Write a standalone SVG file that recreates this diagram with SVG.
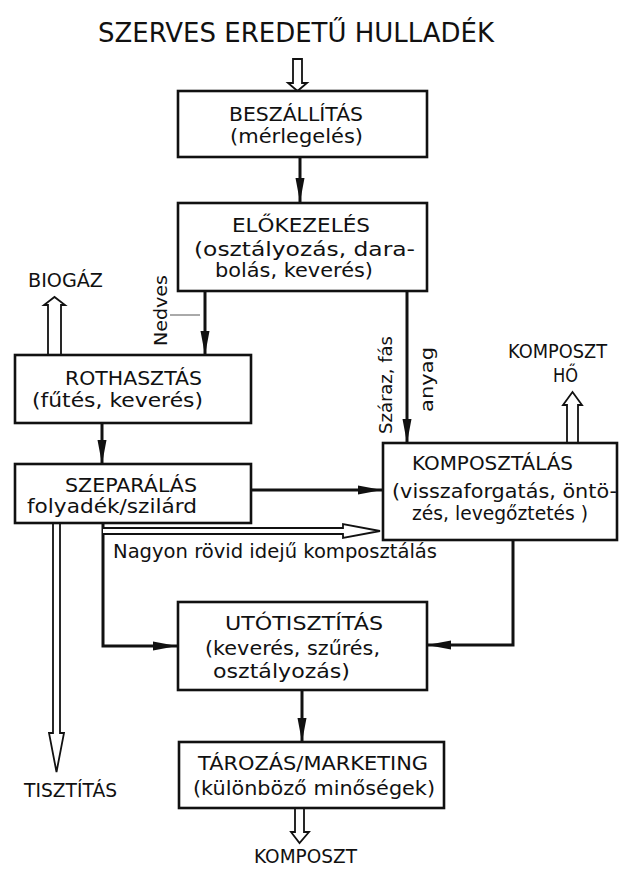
<svg xmlns="http://www.w3.org/2000/svg" width="622" height="869" viewBox="0 0 622 869">
<style>
text{font-family:"DejaVu Sans","Liberation Sans",sans-serif;fill:#111;font-size:19.5px}
.box{fill:#fff;stroke:#111;stroke-width:2.6}
.con{fill:none;stroke:#111;stroke-width:3}
.open{fill:#fff;stroke:#111;stroke-width:1.8;stroke-linejoin:miter}
.title{font-size:27px}
.rot{font-size:18.5px}
</style>
<defs>
<marker id="ah" markerUnits="userSpaceOnUse" markerWidth="26" markerHeight="12" refX="24" refY="5" orient="auto">
<path d="M0,0.5 L24,5 L0,9.5 z" fill="#111"/>
</marker>
</defs>
<rect width="622" height="869" fill="#fff"/>
<text class="title" x="98" y="42" textLength="396" lengthAdjust="spacingAndGlyphs">SZERVES EREDETŰ HULLADÉK</text>

<g id="connectors">
<line class="con" x1="300" y1="157" x2="300" y2="202" marker-end="url(#ah)"/>
<line class="con" x1="205" y1="291" x2="205" y2="355" marker-end="url(#ah)"/>
<line class="con" x1="407" y1="291" x2="407" y2="443" marker-end="url(#ah)"/>
<line class="con" x1="102" y1="423" x2="102" y2="464" marker-end="url(#ah)"/>
<line class="con" x1="251" y1="490" x2="382" y2="490" marker-end="url(#ah)"/>
<path class="con" d="M103,523 V646 H177" marker-end="url(#ah)"/>
<path class="con" d="M513,540 V645 H427" marker-end="url(#ah)"/>
<line class="con" x1="302" y1="690" x2="302" y2="742" marker-end="url(#ah)"/>
<path class="open" d="M293,59 H302 V83 H307 L297.5,91 L288,83 H293 Z"/>
<path class="open" d="M48,355 V305 H44 L54.5,297 L65,305 H61 V355"/>
<path class="open" d="M567,443 V405 H563 L572.5,392 L582,405 H578 V443"/>
<path class="open" d="M295,808 V832 H291 L299.5,843 L309,832 H304 V808"/>
<path class="open" d="M103,528 H343 V524 L380,531 L343,538 V534 H103"/>
<path class="open" d="M53,523 V733 H49 L56.5,772 L64,733 H60 V523"/>
<line x1="170" y1="315" x2="200" y2="315" stroke="#555" stroke-width="1"/>
<text class="rot" transform="translate(167,346) rotate(-90)" textLength="71" lengthAdjust="spacingAndGlyphs">Nedves</text>
<text class="rot" transform="translate(392,434) rotate(-90)" textLength="98" lengthAdjust="spacingAndGlyphs">Száraz, fás</text>
<text class="rot" transform="translate(433,412) rotate(-90)" textLength="65" lengthAdjust="spacingAndGlyphs">anyag</text>
<text x="113" y="558" textLength="324" lengthAdjust="spacingAndGlyphs">Nagyon rövid idejű komposztálás</text>
</g>

<g id="n-beszallitas">
<rect class="box" x="178" y="91" width="249" height="66"/>
<text x="229" y="121" textLength="134" lengthAdjust="spacingAndGlyphs">BESZÁLLÍTÁS</text>
<text x="230" y="143" font-size="19" textLength="133" lengthAdjust="spacingAndGlyphs">(mérlegelés)</text>
</g>
<g id="n-elokezeles">
<rect class="box" x="178" y="203" width="249" height="88"/>
<text x="232" y="232" textLength="138" lengthAdjust="spacingAndGlyphs">ELŐKEZELÉS</text>
<text x="194" y="256" textLength="221" lengthAdjust="spacingAndGlyphs">(osztályozás, dara-</text>
<text x="215" y="277" textLength="158" lengthAdjust="spacingAndGlyphs">bolás, keverés)</text>
</g>
<g id="n-biogaz">
<text x="28" y="287" textLength="75" lengthAdjust="spacingAndGlyphs">BIOGÁZ</text>
</g>
<g id="n-rothasztas">
<rect class="box" x="15" y="355" width="236" height="68"/>
<text x="65" y="385" textLength="137" lengthAdjust="spacingAndGlyphs">ROTHASZTÁS</text>
<text x="32" y="407" textLength="171" lengthAdjust="spacingAndGlyphs">(fűtés, keverés)</text>
</g>
<g id="n-szeparalas">
<rect class="box" x="15" y="464" width="236" height="59"/>
<text x="65" y="492" textLength="132" lengthAdjust="spacingAndGlyphs">SZEPARÁLÁS</text>
<text x="27" y="513" textLength="170" lengthAdjust="spacingAndGlyphs">folyadék/szilárd</text>
</g>
<g id="n-komposztalas">
<rect class="box" x="383" y="443" width="234" height="97"/>
<text x="412" y="470" textLength="161" lengthAdjust="spacingAndGlyphs">KOMPOSZTÁLÁS</text>
<text x="392" y="498" textLength="225" lengthAdjust="spacingAndGlyphs">(visszaforgatás, öntö-</text>
<text x="412" y="520" textLength="176" lengthAdjust="spacingAndGlyphs">zés, levegőztetés )</text>
</g>
<g id="n-komposzt-ho">
<text x="508" y="358" textLength="99" lengthAdjust="spacingAndGlyphs">KOMPOSZT</text>
<text x="553" y="382" textLength="25" lengthAdjust="spacingAndGlyphs">HŐ</text>
</g>
<g id="n-utotisztitas">
<rect class="box" x="178" y="602" width="249" height="88"/>
<text x="225" y="630" textLength="158" lengthAdjust="spacingAndGlyphs">UTÓTISZTÍTÁS</text>
<text x="205" y="655" textLength="175" lengthAdjust="spacingAndGlyphs">(keverés, szűrés,</text>
<text x="213" y="678" textLength="137" lengthAdjust="spacingAndGlyphs">osztályozás)</text>
</g>
<g id="n-tisztitas">
<text x="24" y="797" textLength="93" lengthAdjust="spacingAndGlyphs">TISZTÍTÁS</text>
</g>
<g id="n-tarozas">
<rect class="box" x="179" y="742" width="265" height="66"/>
<text x="198" y="770" textLength="230" lengthAdjust="spacingAndGlyphs">TÁROZÁS/MARKETING</text>
<text x="193" y="795" textLength="242" lengthAdjust="spacingAndGlyphs">(különböző minőségek)</text>
</g>
<g id="n-komposzt">
<text x="254" y="863" font-size="18.5" textLength="103" lengthAdjust="spacingAndGlyphs">KOMPOSZT</text>
</g>
</svg>
